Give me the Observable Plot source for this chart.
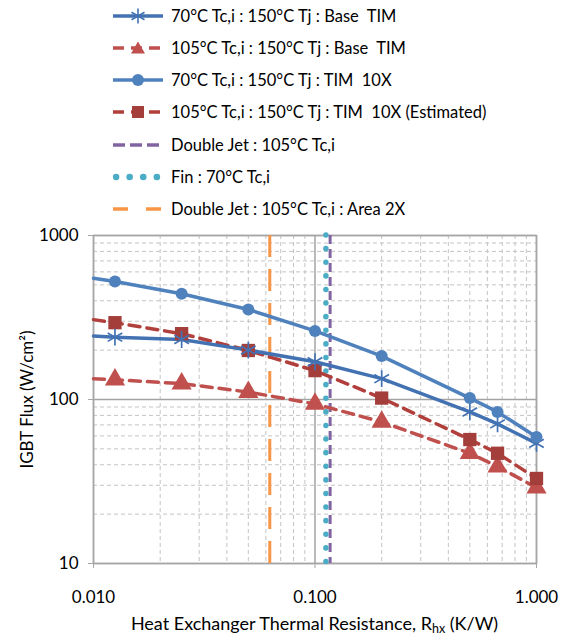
<!DOCTYPE html>
<html><head><meta charset="utf-8">
<script src="https://cdn.jsdelivr.net/npm/d3@7"></script>
<script src="https://cdn.jsdelivr.net/npm/@observablehq/plot@0.6"></script>
<style>
body{margin:0;background:#fff;font-family:Lato,"Open Sans",sans-serif;overflow:hidden}
#wrap{position:relative;width:567px;height:637px}
#legend{position:relative;height:225px;width:567px}
.row{position:absolute;left:113px;height:26px;display:flex;align-items:center;font-size:16.5px;white-space:pre;color:#000}
.row svg{margin-right:8px;flex:none}
#xlabel{position:absolute;left:0;width:567px;top:612px;text-align:center;font-size:18px;padding-left:62px;box-sizing:border-box}
#xlabel sub{font-size:12.5px;vertical-align:-3px}
#chart svg{display:block}
</style></head><body>
<div id="wrap">
<div id="legend"></div>
<div id="chart"></div>
<div id="xlabel">Heat Exchanger Thermal Resistance, R<sub>hx</sub> (K/W)</div>
</div>
<script>
// ---- data ----
const rhx = [0.01, 0.0125, 0.025, 0.05, 0.1, 0.2, 0.5, 0.667, 1.0];
const flux70Base   = [244, 240, 232, 200, 170, 134, 84, 71, 54];
const flux105Base  = [134, 132, 125, 111, 94, 73, 47, 39, 29];
const flux70Tim10  = [549, 524, 441, 354, 262, 184, 102, 84, 59];
const flux105Tim10 = [307, 294, 252, 199, 150, 102, 57, 47, 33];
const seriesNames = [
  "70°C Tc,i : 150°C Tj : Base  TIM",
  "105°C Tc,i : 150°C Tj : Base  TIM",
  "70°C Tc,i : 150°C Tj : TIM  10X",
  "105°C Tc,i : 150°C Tj : TIM  10X (Estimated)"
];
const limitNames = [
  "Double Jet : 105°C Tc,i",
  "Fin : 70°C Tc,i",
  "Double Jet : 105°C Tc,i : Area 2X"
];
const limitRhx = [0.117, 0.112, 0.0625];
const xTicks = [0.01, 0.1, 1];
const xTickLabels = ["0.010", "0.100", "1.000"];
const yTicks = [10, 100, 1000];
const yTickLabels = ["10", "100", "1000"];
const yLabel = "IGBT Flux (W/cm²)";

// ---- styles ----
const seriesStyle = [
  {stroke: "#4372b3", dash: null, symbol: "asterisk", fill: "none", mstroke: "#4372b3", r: 8},
  {stroke: "#c0504d", dash: "11,7", symbol: "triangle", fill: "#c0504d", mstroke: "#c0504d", r: 7.5},
  {stroke: "#4f81bd", dash: null, symbol: "circle", fill: "#4f81bd", mstroke: "#4f81bd", r: 6},
  {stroke: "#b1403c", dash: "11,7", symbol: "square", fill: "#a33e3b", mstroke: "#a33e3b", r: 7.5}
];
const limitStyle = [
  {stroke: "#8064a2", dash: "9,5", width: 3, cap: "butt"},
  {stroke: "#4bacc6", dash: "0.1,13.5", width: 5.5, cap: "round"},
  {stroke: "#f79646", dash: "22,12", width: 3, cap: "butt"}
];

const seriesVals = [flux70Base, flux105Base, flux70Tim10, flux105Tim10];
const rows = [];
seriesVals.forEach((vals, s) => vals.forEach((v, i) => rows.push({s, x: rhx[i], y: v, marker: i > 0})));

// ---- legend ----
const legend = document.getElementById("legend");
const rowTops = [3, 35, 67, 99, 132, 164, 196];
function swatch(html){return `<svg width="50" height="16" viewBox="0 0 50 16">${html}</svg>`;}
const symPath = {
  asterisk: c => `<g stroke="${c}" stroke-width="1.6"><line x1="25" y1="0.5" x2="25" y2="15.5"/><line x1="18.5" y1="4.2" x2="31.5" y2="11.8"/><line x1="18.5" y1="11.8" x2="31.5" y2="4.2"/></g>`,
  triangle: c => `<path d="M25,1.5 L32,13.5 L18,13.5Z" fill="${c}"/>`,
  circle: c => `<circle cx="25" cy="8" r="6" fill="${c}"/>`,
  square: c => `<rect x="19" y="2" width="12" height="12" fill="${c}"/>`
};
seriesNames.forEach((name, i) => {
  const st = seriesStyle[i];
  const line = st.dash
    ? `<line x1="0" y1="8" x2="50" y2="8" stroke="${st.stroke}" stroke-width="3.5" stroke-dasharray="11,7"/>`
    : `<line x1="0" y1="8" x2="50" y2="8" stroke="${st.stroke}" stroke-width="3.5"/>`;
  const div = document.createElement("div");
  div.className = "row"; div.style.top = rowTops[i] + "px";
  div.innerHTML = swatch(line + symPath[st.symbol](st.fill === "none" ? st.mstroke : st.fill)) + `<span>${name}</span>`;
  legend.appendChild(div);
});
limitNames.forEach((name, j) => {
  const st = limitStyle[j];
  const line = j === 1
    ? `<line x1="3" y1="8" x2="50" y2="8" stroke="${st.stroke}" stroke-width="${st.width+1}" stroke-linecap="round" stroke-dasharray="0.1,13.5"/>`
    : (j === 0
      ? `<line x1="0" y1="8" x2="50" y2="8" stroke="${st.stroke}" stroke-width="3.5" stroke-dasharray="12,5"/>`
      : `<line x1="0" y1="8" x2="50" y2="8" stroke="${st.stroke}" stroke-width="3.5" stroke-dasharray="15,18"/>`);
  const div = document.createElement("div");
  div.className = "row"; div.style.top = rowTops[4 + j] + "px";
  div.innerHTML = swatch(line) + `<span>${name}</span>`;
  legend.appendChild(div);
});

// ---- chart ----
const minorX = [], minorY = [];
[0.01, 0.1].forEach(d => { for (let k = 2; k <= 9; k++) minorX.push(k * d); });
[10, 100].forEach(d => { for (let k = 2; k <= 9; k++) minorY.push(k * d); });

const marks = [
  Plot.ruleX(minorX, {stroke: "#c4c4c4", strokeWidth: 1, strokeDasharray: "4,3"}),
  Plot.ruleY(minorY, {stroke: "#c4c4c4", strokeWidth: 1, strokeDasharray: "4,3"}),
  Plot.ruleX(xTicks, {stroke: "#a3a3a3", strokeWidth: 1.5}),
  Plot.ruleY(yTicks, {stroke: "#a3a3a3", strokeWidth: 1.5}),
  Plot.frame({stroke: "#a6a6a6", strokeWidth: 1.5})
];
limitRhx.forEach((x, j) => {
  const st = limitStyle[j];
  marks.push(Plot.ruleX([x], {stroke: st.stroke, strokeWidth: st.width, strokeDasharray: st.dash, strokeLinecap: st.cap}));
});
[1, 3, 0, 2].forEach(s => {
  const st = seriesStyle[s];
  const data = rows.filter(d => d.s === s);
  marks.push(Plot.line(data, {x: "x", y: "y", stroke: st.stroke, strokeWidth: 3.5, strokeDasharray: st.dash ?? undefined, curve: "linear"}));
});
[1, 3, 0, 2].forEach(s => {
  const st = seriesStyle[s];
  const data = rows.filter(d => d.s === s && d.marker);
  marks.push(Plot.dot(data, {x: "x", y: "y", symbol: () => st.symbol, r: st.r,
    fill: st.fill, stroke: st.mstroke, strokeWidth: st.fill === "none" ? 1.7 : 0}));
});
const fmtX = d => xTickLabels[xTicks.findIndex(t => Math.abs(t - d) < 1e-9)] ?? "";
const fmtY = d => yTickLabels[yTicks.findIndex(t => Math.abs(t - d) < 1e-9)] ?? "";
marks.push(
  Plot.axisX({ticks: xTicks, tickFormat: fmtX, tickSize: 5, tickPadding: 22, fontSize: 17, stroke: "#a6a6a6", label: null}),
  Plot.axisY({ticks: yTicks, tickFormat: fmtY, tickSize: 5, tickPadding: 10, fontSize: 17, stroke: "#a6a6a6", label: null}),
  Plot.text([yLabel], {frameAnchor: "left", rotate: -90, dx: -66, textAnchor: "middle", fontSize: 17, fill: "#000"})
);

const chart = Plot.plot({
  width: 567, height: 387,
  marginTop: 10, marginLeft: 93, marginRight: 31, marginBottom: 49,
  style: {fontFamily: "Lato, 'Open Sans', sans-serif", color: "#000", background: "#fff"},
  x: {type: "log", domain: [0.01, 1]},
  y: {type: "log", domain: [10, 1000]},
  symbol: {type: "identity"},
  marks
});
document.getElementById("chart").appendChild(chart);
</script>
</body></html>
